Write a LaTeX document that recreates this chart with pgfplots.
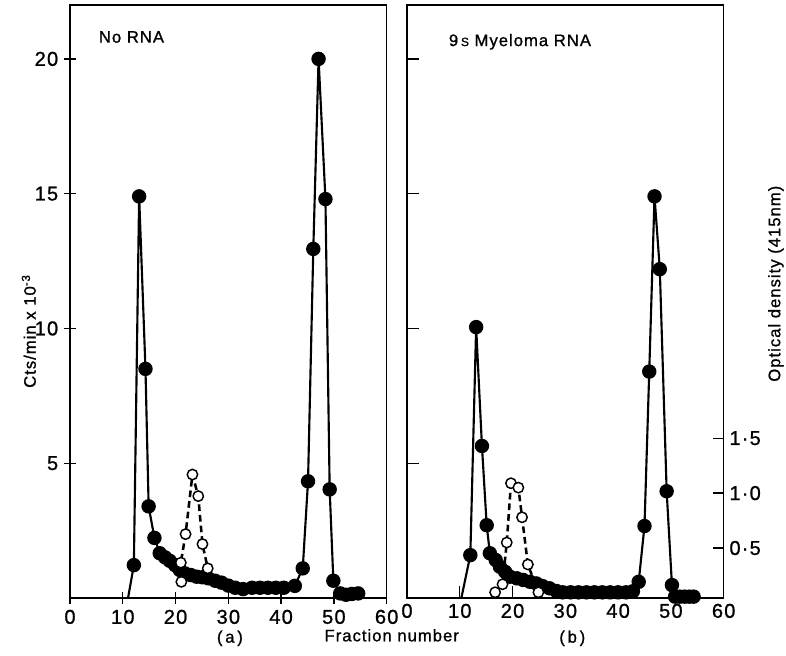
\documentclass[border=0pt]{standalone}
\usepackage{pgfplots}
\pgfplotsset{compat=1.18}
\usepackage{fontspec}
\setmainfont{Liberation Sans}[LetterSpace=6, FakeBold=1]
\pgfplotsset{
  every axis/.append style={
    scale only axis, width=237.5pt, height=444.75pt,
    xmin=0, xmax=60, ymin=0, ymax=22,
    axis line style={line width=1.1pt},
    tick style={line width=1pt, black},
    /pgf/number format/assume math mode=true,
    xtick={0,10,...,60}, xtick pos=bottom, ytick pos=left,
    tick align=inside, major tick length=6pt, clip=false,
  },
  every tick label/.append style={font=\fontsize{15}{17}\selectfont},
  sol/.style={black, line width=1.6pt, mark=*, mark size=4.6pt, mark options={solid, fill=black}},
  lead/.style={black, line width=1.6pt, no marks},
  opn/.style={black, line width=1.9pt, dash pattern=on 5pt off 3pt, mark=*, mark size=3.9pt, mark options={solid, fill=white, line width=1.1pt}},
}
\begin{document}
\fontsize{12.5}{15}\selectfont
\begin{tikzpicture}
\path[use as bounding box] (-52.5pt,-43.5pt) rectangle (537pt,448.5pt);
% ---------- panel (a)
\begin{axis}[name=A, at={(0pt,0pt)}, anchor=south west,
  ytick={5,10,15,20}, tick align=center, major tick length=9pt,
  ylabel={Cts/min x 10\textsuperscript{-3}},
  ylabel style={at={(axis description cs:-0.13,0.45)}, anchor=center}]
\addplot[lead] coordinates {(11,0) (12.1,1.22)};
\addplot[sol] coordinates {
(12.1,1.22)(13.1,14.9)(14.3,8.5)(14.9,3.4)(16.0,2.23)(17.0,1.66)(18.0,1.51)(18.9,1.38)(19.9,1.22)(20.8,1.04)(21.8,0.91)(22.9,0.85)(24.0,0.79)(25.1,0.77)(26.2,0.73)(27.5,0.64)(28.7,0.57)(30.0,0.46)(31.3,0.38)(32.8,0.33)(34.5,0.38)(36,0.38)(37.5,0.38)(39,0.38)(40.5,0.38)(42.6,0.45)(44.1,1.1)(45.1,4.33)(46.1,12.95)(47.1,20.0)(48.4,14.8)(49.2,4.03)(49.9,0.64)(51.2,0.17)(52.3,0.12)(53.4,0.15)(54.6,0.17)
};
\addplot[opn] coordinates {
(21.1,0.6)(21.0,1.31)(21.9,2.37)(23.2,4.58)(24.3,3.78)(25.1,2.0)(26.1,1.1)
};
\node[anchor=west] at (rel axis cs:0.073,0.946) {No RNA};
\node at (rel axis cs:0.505,-0.068) {(\,a\,)};
\node at (rel axis cs:1.016,-0.063) {Fraction number};
\end{axis}
% ---------- panel (b)
\begin{axis}[name=B, at={(252.75pt,0pt)}, anchor=south west,
  ytick={5,10,15,20}, yticklabels={}, major tick length=9pt]
\addplot[lead] coordinates {(10.3,0) (12.0,1.59)};
\addplot[sol] coordinates {
(12.0,1.59)(13.1,10.05)(14.2,5.64)(15.1,2.7)(15.7,1.66)(16.8,1.41)(17.6,1.16)(18.6,0.97)(19.5,0.79)(20.8,0.73)(22.0,0.67)(23.3,0.6)(24.5,0.54)(25.7,0.44)(27.0,0.36)(28.3,0.26)(29.5,0.21)(31,0.21)(32.5,0.21)(34,0.21)(35.5,0.21)(37,0.21)(38.5,0.21)(40,0.21)(41.5,0.21)(42.8,0.25)(43.9,0.6)(45.0,2.67)(45.9,8.4)(46.9,14.9)(47.9,12.2)(49.2,3.96)(50.2,0.48)(50.8,0.05)(51.7,0.05)(52.6,0.05)(53.5,0.05)(54.3,0.05)
};
\node[anchor=west] at (rel axis cs:0.114,0.938) {9\,{\small S} Myeloma RNA};
\node at (rel axis cs:0.522,-0.068) {(\,b\,)};
\end{axis}
\begin{axis}[at={(252.75pt,0pt)}, anchor=south west,
  axis x line=none, axis y line*=right, ytick pos=right,
  ymin=0.045, ymax=5.445, ytick={0.5,1,1.5}, yticklabels={0·5,1·0,1·5},
  major tick length=8pt,
  ylabel={Optical density (415nm)},
  ylabel style={at={(axis description cs:1.165,0.53)}, anchor=center}]
\addplot[opn] coordinates {
(16.7,0.097)(18.1,0.17)(18.9,0.55)(19.7,1.09)(21.1,1.05)(21.8,0.78)(22.9,0.35)(24.9,0.097)
};
\end{axis}
\end{tikzpicture}
\end{document}
